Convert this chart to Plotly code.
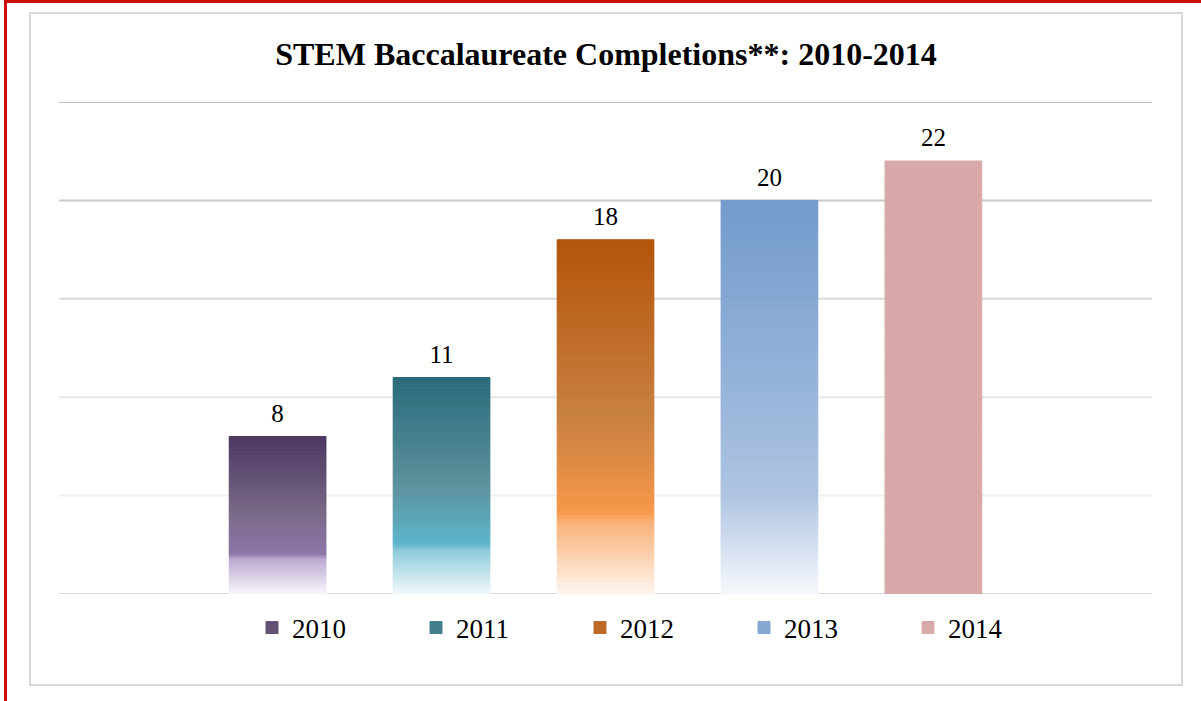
import plotly.graph_objects as go

# data
years = ["2010", "2011", "2012", "2013", "2014"]
completions = [8, 11, 18, 20, 22]
category = "STEM"
grid_levels = [5, 10, 15, 20, 25]

# gradient stops per year: (fraction from bottom, colour)
gradients = {
    "2010": [(0.0, "#F7F5F9"), (0.22, "#B9A8D0"), (0.25, "#8E76AA"), (0.5, "#7A6B89"), (1.0, "#4B3760")],
    "2011": [(0.0, "#F0F8FA"), (0.20, "#8ECBDB"), (0.23, "#5DB5CB"), (0.5, "#5C919C"), (1.0, "#2A6B7B")],
    "2012": [(0.0, "#FFF5EE"), (0.20, "#F8B27A"), (0.23, "#F7984A"), (0.5, "#C88041"), (1.0, "#B3540A")],
    "2013": [(0.0, "#F6F8FC"), (0.25, "#AFC4E2"), (0.5, "#98B5DA"), (1.0, "#729BCB")],
    "2014": [(0.0, "#D9A9A9"), (1.0, "#D9A9A9")],
}
N_SEG = 90
LABEL_PAD = 0.35  # invisible spacer above each bar, lifts the value label

W, H = 1201, 701
L, R, T, B = 59, 1152, 102, 594


def hex_rgb(h):
    h = h.lstrip("#")
    return [int(h[i:i + 2], 16) for i in (0, 2, 4)]


def grad_color(stops, t):
    for (p0, c0), (p1, c1) in zip(stops[:-1], stops[1:]):
        if p0 <= t <= p1:
            f = 0 if p1 == p0 else (t - p0) / (p1 - p0)
            a, b = hex_rgb(c0), hex_rgb(c1)
            return "rgb(%d,%d,%d)" % tuple(round(a[i] + (b[i] - a[i]) * f) for i in range(3))
    return stops[-1][1]


def px(x):
    return (x - L) / (R - L)


def py(y):
    return (B - y) / (B - T)


fig = go.Figure()

for yr, val in zip(years, completions):
    stops = gradients[yr]
    # segments listed top-down (rolled) so the legend swatch takes a darker tone
    ks = list(range(N_SEG - 1, -1, -1))
    ks = ks[int(N_SEG * 0.25):] + ks[:int(N_SEG * 0.25)]
    seg_h = val / N_SEG
    cols = [grad_color(stops, (k + 0.5) / N_SEG) for k in ks]
    fig.add_trace(go.Bar(
        x=[category] * (N_SEG + 1),
        y=[seg_h] * N_SEG + [LABEL_PAD],
        base=[k * seg_h for k in ks] + [val],
        marker=dict(color=cols + ["rgba(0,0,0,0)"],
                    line=dict(color=cols + ["rgba(0,0,0,0)"], width=1)),
        text=[""] * N_SEG + [str(val)],
        textposition=["none"] * N_SEG + ["outside"],
        textfont=dict(family="Liberation Serif", size=25, color="#000000"),
        cliponaxis=False,
        name=yr,
        hoverinfo="skip",
    ))

shapes = []
# frame lines
shapes.append(dict(type="rect", xref="paper", yref="paper", x0=px(30), x1=px(1182), y0=py(13), y1=py(685),
                   line=dict(color="#D9D9D9", width=2), layer="below"))
shapes.append(dict(type="line", xref="paper", yref="paper", x0=px(4), x1=px(1201), y0=py(1.5), y1=py(1.5),
                   line=dict(color="#CC0A0A", width=3)))
shapes.append(dict(type="line", xref="paper", yref="paper", x0=px(5.5), x1=px(5.5), y0=py(0), y1=py(701),
                   line=dict(color="#CC0A0A", width=3)))
# gridlines with slightly varying tone as in the reference
grid_colors = ["#F0F0F0", "#E6E6E6", "#D9D9D9", "#C8C8C8", "#BFBFBF"]
for lvl, gc in zip(grid_levels, grid_colors):
    shapes.append(dict(type="line", xref="paper", yref="y", x0=0, x1=1, y0=lvl, y1=lvl,
                       line=dict(color=gc, width=2), layer="below"))
shapes.append(dict(type="line", xref="paper", yref="y", x0=0, x1=1, y0=0, y1=0,
                   line=dict(color="#D9D9D9", width=2), layer="below"))

fig.update_layout(
    width=W, height=H,
    margin=dict(l=L, r=W - R, t=T, b=H - B),
    paper_bgcolor="white", plot_bgcolor="white",
    barmode="group", bargap=0.25, bargroupgap=0.41,
    title=dict(text="<b>STEM Baccalaureate Completions**: 2010-2014</b>",
               font=dict(family="Liberation Serif", size=32, color="#000000"),
               x=px(606), xref="paper", xanchor="center",
               y=1 - 54 / H, yref="container", yanchor="middle"),
    showlegend=True,
    legend=dict(orientation="h", x=px(252), xanchor="left", y=py(628), yanchor="middle",
                font=dict(family="Liberation Serif", size=27, color="#000000"),
                entrywidth=119, entrywidthmode="pixels", bgcolor="rgba(0,0,0,0)"),
    shapes=shapes,
    hovermode=False,
)
fig.update_xaxes(visible=False)
fig.update_yaxes(range=[0, 25], dtick=5, showgrid=False, zeroline=False, showticklabels=False)

fig.write_html("out.html", config={"displayModeBar": False},
               post_script="document.body.style.margin='0';")
